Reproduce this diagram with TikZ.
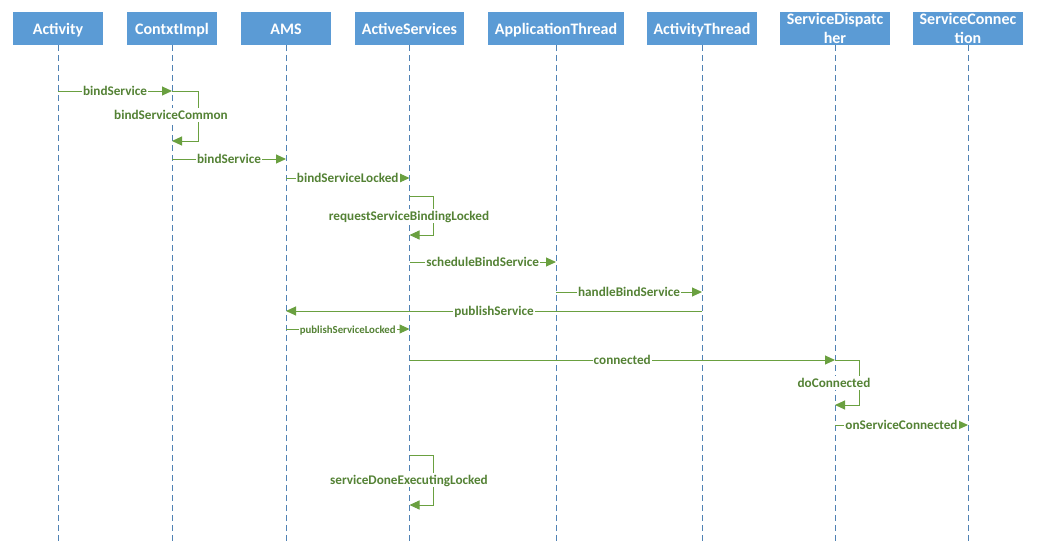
\documentclass[tikz,border=0pt]{standalone}
\usepackage{fontspec}
\setmainfont{Carlito}
\usetikzlibrary{arrows.meta}
\definecolor{hdrblue}{RGB}{91,155,213}
\definecolor{lifeblue}{RGB}{80,130,180}
\definecolor{msgline}{RGB}{106,160,64}
\definecolor{msgtext}{RGB}{84,130,53}
\tikzset{
  hdrbase/.style={fill=hdrblue, text=white, font=\fontsize{16}{18.5}\selectfont\bfseries, minimum height=33pt, inner sep=0pt, align=center},
  hdr/.style={hdrbase, text height=13pt, text depth=1pt},
  hdrtwo/.style={hdrbase},
  life/.style={draw=lifeblue, line width=0.6pt, dash pattern=on 6pt off 4pt},
  msg/.style={draw=msgline, line width=1pt, -{Triangle[length=10pt,width=9pt]}},
  lbl/.style={fill=white, text=msgtext, font=\fontsize{13.2}{14}\selectfont\bfseries, inner sep=1pt, text height=11pt, text depth=1.5pt},
  lbls/.style={lbl, font=\fontsize{10.8}{11}\selectfont\bfseries, text height=9.5pt, text depth=1pt}
}
\begin{document}
\begin{tikzpicture}[x=1pt,y=-1pt]
\useasboundingbox (0,0) rectangle (1037,541);
% headers
\node[hdr, minimum width=90pt] (act) at (58,28.5) {Activity};
\node[hdr, minimum width=90pt] (ctx) at (172,28.5) {ContxtImpl};
\node[hdr, minimum width=90pt] (ams) at (286,28.5) {AMS};
\node[hdr, minimum width=109pt] (as) at (409.5,28.5) {ActiveServices};
\node[hdr, minimum width=136pt] (apt) at (556,28.5) {ApplicationThread};
\node[hdr, minimum width=110pt] (at) at (702,28.5) {ActivityThread};
\node[hdrtwo, minimum width=110pt] (sd) at (835,28.5) {ServiceDispatc\\her};
\node[hdrtwo, minimum width=110pt] (sc) at (968,28.5) {ServiceConnec\\tion};
% lifeline ends
\foreach \n in {act,ctx,ams,as,apt,at,sd,sc}{
  \coordinate (\n-end) at (\n.south |- 0,541);
  \draw[life] (\n.south) -- (\n-end);
}
% 1 bindService
\draw[msg] (act.south |- 0,91) -- node[lbl]{bindService} (ctx.south |- 0,91);
% 2 bindServiceCommon (self)
\coordinate (c2a) at (ctx.south |- 0,91);
\coordinate (c2b) at (ctx.south |- 0,141);
\draw[msg] (c2a) -- ++(26,0) -- ++(0,50) -- (c2b);
\node[lbl] (l2) at (171,115) {bindServiceCommon};
% 3 bindService
\draw[msg] (ctx.south |- 0,159) -- node[lbl]{bindService} (ams.south |- 0,159);
% 4 bindServiceLocked
\draw[msg] (ams.south |- 0,178) -- node[lbl]{bindServiceLocked} (as.south |- 0,178);
% 5 requestServiceBindingLocked (self)
\coordinate (c5a) at (as.south |- 0,196);
\coordinate (c5b) at (as.south |- 0,235);
\draw[msg] (c5a) -- ++(24,0) -- ++(0,39) -- (c5b);
\node[lbl] (l5) at (409,216) {requestServiceBindingLocked};
% 6 scheduleBindService
\draw[msg] (as.south |- 0,262) -- node[lbl]{scheduleBindService} (apt.south |- 0,262);
% 7 handleBindService
\draw[msg] (apt.south |- 0,292) -- node[lbl]{handleBindService} (at.south |- 0,292);
% 8 publishService
\draw[msg] (at.south |- 0,311) -- node[lbl]{publishService} (ams.south |- 0,311);
% 9 publishServiceLocked
\draw[msg] (ams.south |- 0,329) -- node[lbls]{publishServiceLocked} (as.south |- 0,329);
% 10 connected
\draw[msg] (as.south |- 0,360) -- node[lbl]{connected} (sd.south |- 0,360);
% 11 doConnected (self)
\coordinate (c11a) at (sd.south |- 0,360);
\coordinate (c11b) at (sd.south |- 0,405);
\draw[msg] (c11a) -- ++(24,0) -- ++(0,45) -- (c11b);
\node[lbl] (l11) at (834,383) {doConnected};
% 12 onServiceConnected
\draw[msg] (sd.south |- 0,425) -- node[lbl]{onServiceConnected} (sc.south |- 0,425);
% 13 serviceDoneExecutingLocked (self)
\coordinate (c13a) at (as.south |- 0,455);
\coordinate (c13b) at (as.south |- 0,505);
\draw[msg] (c13a) -- ++(24,0) -- ++(0,50) -- (c13b);
\node[lbl] (l13) at (409,480) {serviceDoneExecutingLocked};
\end{tikzpicture}
\end{document}
